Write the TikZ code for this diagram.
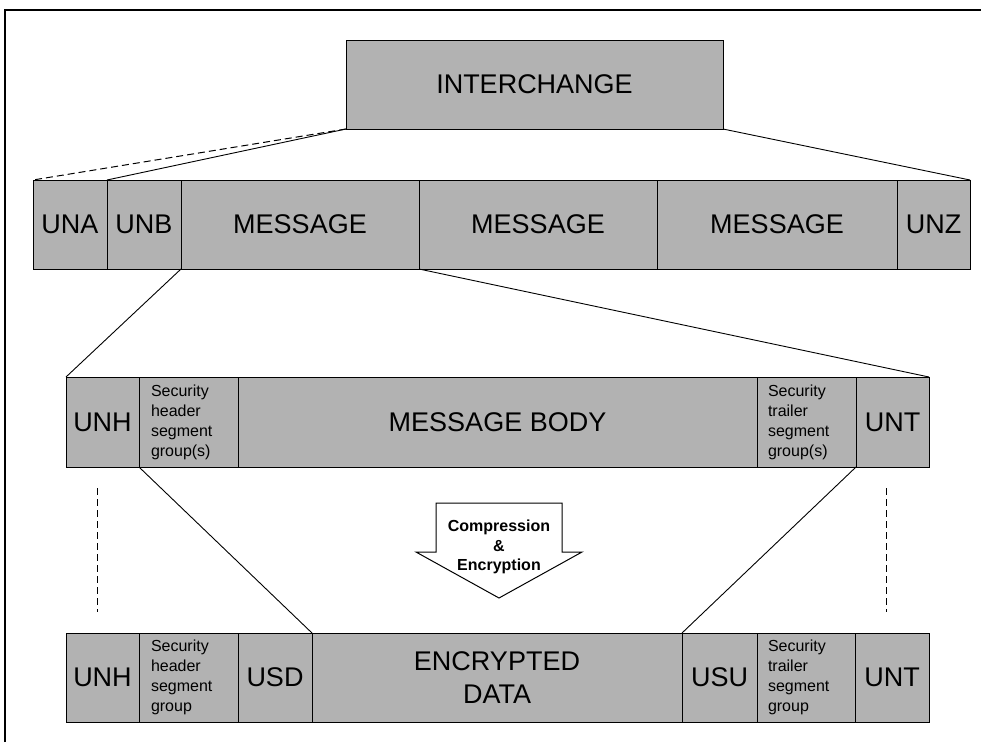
\documentclass[tikz,border=0pt]{standalone}
\usepackage{fontspec}
\setmainfont{Liberation Sans}
\definecolor{boxgray}{RGB}{178,178,178}
\tikzset{
  seg/.style={draw=black, fill=boxgray, line width=1pt, inner sep=0pt, outer sep=0pt,
              anchor=north west, font=\fontsize{27}{33}\selectfont, align=center},
  small/.style={seg, font=\fontsize{16}{20}\selectfont, align=left, inner xsep=12pt},
  conn/.style={line width=0.9pt},
  dconn/.style={line width=1pt, dash pattern=on 7pt off 4pt},
  frameline/.style={line width=2pt},
  blockarrow/.style={draw=black, fill=white, line width=1pt, line join=miter},
  arrowtext/.style={font=\bfseries\fontsize{16}{19.5}\selectfont, align=center, inner sep=0pt}
}
\begin{document}
\begin{tikzpicture}[x=1pt, y=-1pt]
\useasboundingbox (0,0) rectangle (981,742);
% frame
\coordinate (fbl) at (5,742);
\coordinate (ftl) at (5,10);
\coordinate (ftr) at (981,10);
\draw[frameline] (fbl) -- (ftl) -- (ftr);

% top
\node[seg, minimum width=377pt, minimum height=89pt] (ic) at (346,40) {INTERCHANGE};

% row 1
\node[seg, minimum width=74pt, minimum height=89pt] (una) at (33,180) {UNA};
\node[seg, minimum width=74pt, minimum height=89pt] (unb) at (107,180) {UNB};
\node[seg, minimum width=238pt, minimum height=89pt] (msgA) at (181,180) {MESSAGE};
\node[seg, minimum width=238pt, minimum height=89pt] (msgB) at (419,180) {MESSAGE};
\node[seg, minimum width=240pt, minimum height=89pt] (msgC) at (657,180) {MESSAGE};
\node[seg, minimum width=73pt, minimum height=89pt] (unz) at (897,180) {UNZ};

% row 2
\node[seg, minimum width=73pt, minimum height=90pt] (unh2) at (66,377) {UNH};
\node[small, text width=75pt, minimum width=99pt, minimum height=90pt] (sh2) at (139,377) {Security\\header\\segment\\group(s)};
\node[seg, minimum width=519pt, minimum height=90pt] (body) at (238,377) {MESSAGE BODY};
\node[small, inner xsep=11pt, text width=77pt, minimum width=99pt, minimum height=90pt] (st2) at (757,377) {Security\\trailer\\segment\\group(s)};
\node[seg, minimum width=73pt, minimum height=90pt] (unt2) at (856,377) {UNT};

% row 3
\node[seg, minimum width=73pt, minimum height=89pt] (unh3) at (66,633) {UNH};
\node[small, text width=75pt, minimum width=99pt, minimum height=89pt] (sh3) at (139,633) {Security\\header\\segment\\group};
\node[seg, minimum width=74pt, minimum height=89pt] (usd) at (238,633) {USD};
\node[seg, minimum width=370pt, minimum height=89pt] (enc) at (312,633) {ENCRYPTED\\DATA};
\node[seg, minimum width=75pt, minimum height=89pt] (usu) at (682,633) {USU};
\node[small, inner xsep=11pt, text width=76pt, minimum width=98pt, minimum height=89pt] (st3) at (757,633) {Security\\trailer\\segment\\group};
\node[seg, minimum width=74pt, minimum height=89pt] (unt3) at (855,633) {UNT};

% connectors
\draw[dconn] (ic.south west) -- (una.north west);
\draw[conn] (ic.south west) -- (unb.north west);
\draw[conn] (ic.south east) -- (unz.north east);
\draw[conn] (msgA.south west) -- (unh2.north west);
\draw[conn] (msgA.south east) -- (unt2.north east);
\draw[conn] (sh2.south west) -- (enc.north west);
\draw[conn] (st2.south east) -- (enc.north east);

% dotted continuation lines
\coordinate (dl1) at (97,488);
\coordinate (dl2) at (97,612);
\coordinate (dr1) at (886,488);
\coordinate (dr2) at (886,612);
\draw[dconn] (dl1) -- (dl2);
\draw[dconn] (dr1) -- (dr2);

% block arrow
\draw[blockarrow] (436,503) -- (562,503) -- (562,552) -- (582,552) -- (499,598)
   -- (416,552) -- (436,552) -- cycle;
\node[arrowtext] (arrowtxt) at (499,547) {Compression\\\&\\Encryption};
\end{tikzpicture}
\end{document}
